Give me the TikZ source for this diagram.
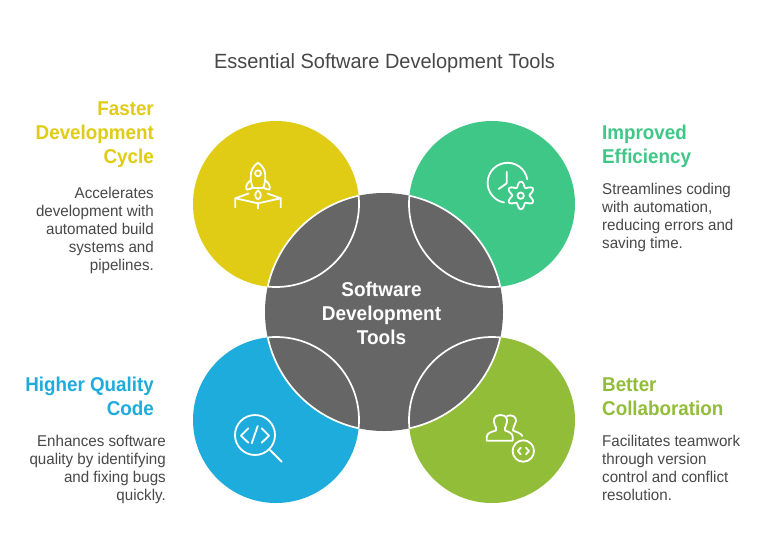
\documentclass[tikz,border=0pt]{standalone}
\usepackage{fontspec}
\setmainfont{Liberation Sans}
\newfontfamily\headf[FakeStretch=0.95]{Liberation Sans}
\newfontfamily\headg[FakeStretch=0.94]{Liberation Sans}
\newfontfamily\bodyf[FakeStretch=0.97]{Liberation Sans}
\definecolor{cyel}{HTML}{E0CB15}
\definecolor{cgrn}{HTML}{3EC787}
\definecolor{cblu}{HTML}{1EACDC}
\definecolor{clim}{HTML}{92BD39}
\definecolor{cdrk}{HTML}{666666}
\definecolor{ctxt}{HTML}{484848}
\tikzset{
  outer/.style={circle,minimum size=166pt,inner sep=0pt,fill=#1},
  hub/.style={circle,minimum size=238pt,inner sep=0pt,fill=cdrk},
  hubt/.style={text=white,align=center,inner sep=0pt,font=\headf\fontsize{20}{24}\selectfont\bfseries},
  headl/.style={anchor=north east,align=right,font=\headg\fontsize{20}{24}\selectfont\bfseries,text=#1,inner sep=0pt},
  headr/.style={anchor=north west,align=left,font=\headg\fontsize{20}{24}\selectfont\bfseries,text=#1,inner sep=0pt},
  bodyl/.style={anchor=north east,align=right,font=\bodyf\fontsize{15.6}{18}\selectfont,text=ctxt,inner sep=0pt},
  bodyr/.style={anchor=north west,align=left,font=\bodyf\fontsize{15.6}{18}\selectfont,text=ctxt,inner sep=0pt},
  icon/.style={draw=white,line width=1.8pt,line cap=round,line join=round,fill=none},
  seam/.style={draw=white,line width=1.7pt,fill=none}
}
\begin{document}
\begin{tikzpicture}[x=1pt,y=-1pt]
\useasboundingbox (0,0) rectangle (768,552);
\fill[white] (0,0) rectangle (768,552);
\node[anchor=center,font=\bodyf\fontsize{20.6}{24}\selectfont,text=ctxt,inner sep=0pt] (title) at (384.5,63) {Essential Software Development Tools};
\node[outer=cyel] (a) at (276,204) {};
\node[outer=cgrn] (b) at (492,204) {};
\node[outer=cblu] (c) at (276,420) {};
\node[outer=clim] (d) at (492,420) {};
\node[hub] (hubc) at (384,312) {};
\node[hubt] (hubl) at (381.5,313) {Software\\Development\\Tools};
% seams
\begin{scope}
  \clip (384,312) circle (119);
  \foreach \p in {a,b,c,d} \draw[seam] (\p) circle (83);
\end{scope}
\foreach \p in {a,b,c,d}{
  \begin{scope}
    \clip (\p) circle (83);
    \draw[seam] (hubc) circle (119);
  \end{scope}
}
% rocket
\draw[icon] (258,162.7) .. controls (253,166) and (250.7,171) .. (250.7,176) .. controls (250.7,181) and (251.5,185) .. (253,188) -- (263,188) .. controls (264.5,185) and (265.3,181) .. (265.3,176) .. controls (265.3,171) and (263,166) .. (258,162.7) -- cycle;
\draw[icon] (258,173.3) circle (3);
\draw[icon] (250.5,180.5) .. controls (247,183) and (245.5,186) .. (246.5,189.5) .. controls (249,190) and (252,188.5) .. (253,187);
\draw[icon] (265.5,180.5) .. controls (269,183) and (270.5,186) .. (269.5,189.5) .. controls (267,190) and (264,188.5) .. (263,187);
\draw[icon] (258,190.5) .. controls (254.5,193) and (254,197) .. (258,199.5) .. controls (262,197) and (261.5,193) .. (258,190.5) -- cycle;
\draw[icon] (248.5,193.5) -- (235.3,198.3) -- (235.3,207.3);
\draw[icon] (267.5,193.5) -- (280.7,198.3) -- (280.7,207.3);
\draw[icon] (235.3,198.3) -- (258,203.3) -- (280.7,198.3);
\draw[icon] (258,203.3) -- (258,208.3);
% clock + gear
\draw[icon] (527.3,179.3) arc[start angle=-10,end angle=-260,radius=20];
\draw[icon] (506.7,171.7) -- (506.7,183.3) -- (498.7,189);
\draw[icon] plot[smooth cycle,samples=72,domain=0:355] ({520.9+(11.2+2.6*cos(6*(\x-90)))*cos(\x)},{195.4+(11.2+2.6*cos(6*(\x-90)))*sin(\x)});
\draw[icon] (520.7,195.7) circle (3.2);
% magnifier
\draw[icon] (255,435) circle (20);
\draw[icon] (270,450) -- (281.7,461.7);
\draw[icon] (248.3,428.3) -- (241,435.7) -- (248.3,442.7);
\draw[icon] (261.7,428.3) -- (269,435.7) -- (261.7,442.7);
\draw[icon] (257.7,426) -- (251.7,443.3);
% people
\draw[icon] (486.7,440.7) -- (486.7,436.5) .. controls (487,432.5) and (493,431.5) .. (496,430.5) .. controls (496.5,428) and (496,427) .. (495,425.5) .. controls (492.5,420) and (494,415) .. (500.5,415) .. controls (507,415) and (508.5,420) .. (506,425.5) .. controls (505,427) and (504.5,428) .. (505,430.5) .. controls (508,431.5) and (512.5,433) .. (512.7,436.5) -- (512.7,440.7) -- cycle;
\draw[icon] (507,416) .. controls (512,414) and (516.5,417) .. (516,421) .. controls (515.8,424) and (513,426) .. (513,430.5) .. controls (516,432) and (521,433) .. (522.3,436);
\draw[icon] (523.3,451) circle (10.7);
\draw[icon] (520.7,447.7) -- (517.7,451) -- (520.7,454.3);
\draw[icon] (526,447.7) -- (529,451) -- (526,454.3);
% texts
\node[headl=cyel] (h1) at (154,101.5) {Faster\\Development\\Cycle};
\node[bodyl] (t1) at (154,186.5) {Accelerates\\development with\\automated build\\systems and\\pipelines.};
\node[headr=cgrn] (h2) at (602,125.3) {Improved\\Efficiency};
\node[bodyr] (t2) at (602,183.3) {Streamlines coding\\with automation,\\reducing errors and\\saving time.};
\node[headl=cblu] (h3) at (154,377.3) {Higher Quality\\Code};
\node[bodyl] (t3) at (166,435.3) {Enhances software\\quality by identifying\\and fixing bugs\\quickly.};
\node[headr=clim] (h4) at (602,377.3) {Better\\Collaboration};
\node[bodyr] (t4) at (602,435.3) {Facilitates teamwork\\through version\\control and conflict\\resolution.};
\end{tikzpicture}
\end{document}
